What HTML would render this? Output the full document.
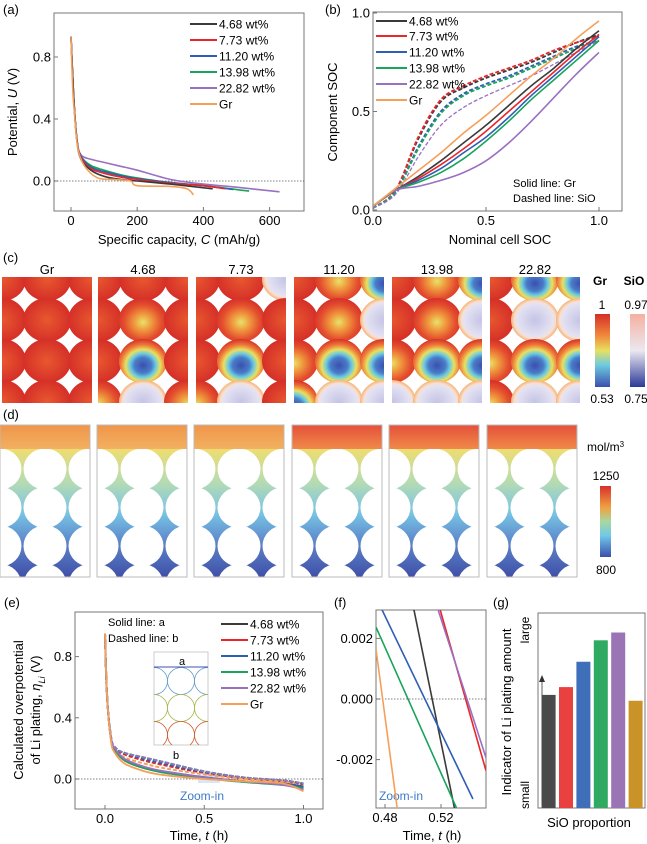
<!DOCTYPE html>
<html><head><meta charset="utf-8"><style>
html,body{margin:0;padding:0;background:#fff;}
svg{display:block;font-family:"Liberation Sans",sans-serif;}
</style></head><body>
<svg id="fig" width="647" height="844" viewBox="0 0 647 844" xmlns="http://www.w3.org/2000/svg">
<defs>
<clipPath id="clipA"><rect x="54" y="13" width="250" height="198"/></clipPath>
<clipPath id="clipB"><rect x="373" y="12" width="249" height="199"/></clipPath>
<clipPath id="clipE"><rect x="75" y="612" width="248" height="197"/></clipPath>
<clipPath id="clipF"><rect x="376" y="610" width="110" height="198"/></clipPath>
<clipPath id="clipInset"><rect x="154" y="652" width="54" height="93"/></clipPath>
<radialGradient id="gr" cx="0.5" cy="0.5" r="0.5"><stop offset="0" stop-color="#e8582f"/><stop offset="1" stop-color="#d52f28"/></radialGradient>
<radialGradient id="gry" cx="0.5" cy="0.55" r="0.55"><stop offset="0" stop-color="#e7e36a"/><stop offset="0.3" stop-color="#f0a040"/><stop offset="0.7" stop-color="#e4502e"/><stop offset="1" stop-color="#d52f28"/></radialGradient>
<radialGradient id="grb" cx="0.5" cy="0.6" r="0.6"><stop offset="0" stop-color="#3b4fae"/><stop offset="0.3" stop-color="#4a7cc8"/><stop offset="0.45" stop-color="#6ccbe0"/><stop offset="0.6" stop-color="#e8e060"/><stop offset="0.78" stop-color="#ee7a38"/><stop offset="1" stop-color="#d52f28"/></radialGradient>
<radialGradient id="sio" cx="0.5" cy="0.5" r="0.5"><stop offset="0" stop-color="#c4c4e6"/><stop offset="0.75" stop-color="#e4e2f2"/><stop offset="0.85" stop-color="#f8e0d0"/><stop offset="1" stop-color="#f5b27a"/></radialGradient>
<linearGradient id="cbGr" x1="0" y1="0" x2="0" y2="1"><stop offset="0" stop-color="#d52f28"/><stop offset="0.3" stop-color="#f08a3c"/><stop offset="0.5" stop-color="#e8e060"/><stop offset="0.7" stop-color="#6ccbe0"/><stop offset="1" stop-color="#3b4fae"/></linearGradient>
<linearGradient id="cbSiO" x1="0" y1="0" x2="0" y2="1"><stop offset="0" stop-color="#f5b0a0"/><stop offset="0.5" stop-color="#ece8f0"/><stop offset="1" stop-color="#2a3a98"/></linearGradient>
<linearGradient id="cbD" x1="0" y1="0" x2="0" y2="1"><stop offset="0" stop-color="#d8302a"/><stop offset="0.3" stop-color="#f0a040"/><stop offset="0.5" stop-color="#a8d8a0"/><stop offset="0.7" stop-color="#70c8e8"/><stop offset="1" stop-color="#3b4fae"/></linearGradient>
<linearGradient id="elec" x1="0" y1="0" x2="0" y2="1"><stop offset="0" stop-color="#eedd70"/><stop offset="0.25" stop-color="#b8dcb0"/><stop offset="0.5" stop-color="#78c4e4"/><stop offset="0.75" stop-color="#5a80c8"/><stop offset="1" stop-color="#4050a8"/></linearGradient>
<linearGradient id="bandL" x1="0" y1="0" x2="0" y2="1"><stop offset="0" stop-color="#f0954a"/><stop offset="1" stop-color="#f2b060"/></linearGradient>
<linearGradient id="bandR" x1="0" y1="0" x2="0" y2="1"><stop offset="0" stop-color="#e4503a"/><stop offset="1" stop-color="#f08a48"/></linearGradient>
</defs>

<text x="3" y="14" font-size="13">(a)</text>
<rect x="54" y="13" width="250" height="198" fill="none" stroke="#777" stroke-width="1"/>
<text transform="translate(17,112) rotate(-90)" text-anchor="middle" font-size="13">Potential, <tspan font-style="italic">U</tspan> (V)</text>
<text x="179" y="244" text-anchor="middle" font-size="13">Specific capacity, <tspan font-style="italic">C</tspan> (mAh/g)</text>
<g id="aAxes"></g><g id="aLines" clip-path="url(#clipA)"></g><g id="aLegend"></g>

<text x="325" y="14" font-size="13">(b)</text>
<rect x="373" y="12" width="249" height="199" fill="none" stroke="#777" stroke-width="1"/>
<text transform="translate(337,112) rotate(-90)" text-anchor="middle" font-size="13">Component SOC</text>
<text x="500" y="244" text-anchor="middle" font-size="13">Nominal cell SOC</text>
<text x="513" y="187" font-size="11">Solid line: Gr</text>
<text x="513" y="202" font-size="11">Dashed line: SiO</text>
<g id="bAxes"></g><g id="bLines" clip-path="url(#clipB)"></g><g id="bLegend"></g>

<text x="3" y="262" font-size="13">(c)</text>
<g id="cPanels"></g>
<text x="600" y="285" text-anchor="middle" font-size="12" font-weight="bold">Gr</text>
<text x="634" y="285" text-anchor="middle" font-size="12" font-weight="bold">SiO</text>
<text x="602" y="309" text-anchor="middle" font-size="12">1</text>
<text x="636" y="309" text-anchor="middle" font-size="12">0.97</text>
<rect x="595" y="314" width="15" height="73" fill="url(#cbGr)"/>
<rect x="630" y="314" width="15" height="73" fill="url(#cbSiO)"/>
<text x="602" y="403" text-anchor="middle" font-size="12">0.53</text>
<text x="636" y="403" text-anchor="middle" font-size="12">0.75</text>

<text x="3" y="419" font-size="13">(d)</text>
<g id="dPanels"></g>
<text x="587" y="451" font-size="12">mol/m<tspan baseline-shift="super" font-size="8">3</tspan></text>
<text x="606" y="480" text-anchor="middle" font-size="12">1250</text>
<rect x="600" y="486" width="11" height="71" fill="url(#cbD)"/>
<text x="606" y="574" text-anchor="middle" font-size="12">800</text>

<text x="4" y="607" font-size="13">(e)</text>
<rect x="75" y="612" width="248" height="197" fill="none" stroke="#777" stroke-width="1"/>
<text transform="translate(23,710) rotate(-90)" text-anchor="middle" font-size="13">Calculated overpotential</text>
<text transform="translate(40,710) rotate(-90)" text-anchor="middle" font-size="13">of Li plating, <tspan font-style="italic">η<tspan font-size="9" baseline-shift="sub">Li</tspan></tspan> (V)</text>
<text x="199" y="840" text-anchor="middle" font-size="13">Time, <tspan font-style="italic">t</tspan> (h)</text>
<text x="108" y="626" font-size="11">Solid line: a</text>
<text x="108" y="642" font-size="11">Dashed line: b</text>
<g>
<rect x="154" y="652" width="54" height="93" fill="#fff" stroke="#ccc" stroke-width="1"/>
<g fill="none" stroke-width="0.8" clip-path="url(#clipInset)">
<circle cx="181" cy="681" r="13.5" stroke="#6aa0c8"/><circle cx="154" cy="681" r="13.5" stroke="#6aa0c8"/><circle cx="208" cy="681" r="13.5" stroke="#6aa0c8"/>
<circle cx="181" cy="708" r="13.5" stroke="#a8b850"/><circle cx="154" cy="708" r="13.5" stroke="#a8b850"/><circle cx="208" cy="708" r="13.5" stroke="#a8b850"/>
<circle cx="181" cy="735" r="13.5" stroke="#d06030"/><circle cx="154" cy="735" r="13.5" stroke="#d06030"/><circle cx="208" cy="735" r="13.5" stroke="#d06030"/>
</g>
<line x1="154" y1="667" x2="208" y2="667" stroke="#4050b0" stroke-width="1"/>
<text x="182" y="665" text-anchor="middle" font-size="11">a</text>
<text x="176" y="759" text-anchor="middle" font-size="11">b</text>
</g>
<rect x="198" y="775" width="22" height="8" fill="#cfe0f4" opacity="0.8"/>
<text x="202" y="800" text-anchor="middle" font-size="12" fill="#3c7ac8">Zoom-in</text>
<g id="eAxes"></g><g id="eLines" clip-path="url(#clipE)"></g><g id="eLegend"></g>

<text x="334" y="607" font-size="13">(f)</text>
<rect x="376" y="610" width="110" height="198" fill="none" stroke="#777" stroke-width="1"/>
<text x="432" y="840" text-anchor="middle" font-size="13">Time, <tspan font-style="italic">t</tspan> (h)</text>
<text x="379" y="800" font-size="12" fill="#3c7ac8">Zoom-in</text>
<g id="fAxes"></g><g id="fLines" clip-path="url(#clipF)"></g>

<text x="493" y="607" font-size="13">(g)</text>
<rect x="538" y="613" width="107" height="195" fill="none" stroke="#777" stroke-width="1"/>
<text transform="translate(511,712) rotate(-90)" text-anchor="middle" font-size="13">Indicator of Li plating amount</text>
<text transform="translate(529,630) rotate(-90)" text-anchor="middle" font-size="12">large</text>
<text transform="translate(529,795) rotate(-90)" text-anchor="middle" font-size="12">small</text>
<line x1="542" y1="805" x2="542" y2="680" stroke="#333" stroke-width="0.8"/>
<path d="M539,682 L542,675 L545,682 Z" fill="#333"/>
<text x="589" y="827" text-anchor="middle" font-size="13">SiO proportion</text>
<g id="gBars"></g>
</svg>
<script>
const NS = "http://www.w3.org/2000/svg";
const seriesNames = ["4.68 wt%","7.73 wt%","11.20 wt%","13.98 wt%","22.82 wt%","Gr"];
const seriesColors = ["#3a3a3a","#e8262b","#2e5eb5","#1aa35a","#9a70c0","#f5a05a"];

const aTickX = [0,200,400,600];
const aTickY = [0.0,0.4,0.8];
const aCap = [
 [0,8,18,30,60,100,150,200,300,428],
 [0,8,18,30,60,100,150,200,300,400,465],
 [0,8,18,30,60,100,150,200,300,400,490],
 [0,8,18,30,60,100,150,200,300,400,538],
 [0,8,18,30,60,100,150,200,300,400,500,630],
 [0,5,10,20,40,80,130,180,200,300,350,370]
];
const aU = [
 [0.93,0.55,0.26,0.14,0.07,0.03,0.01,0.0,-0.02,-0.05],
 [0.93,0.55,0.26,0.15,0.08,0.05,0.025,0.01,-0.015,-0.03,-0.05],
 [0.93,0.55,0.26,0.16,0.09,0.06,0.035,0.015,-0.01,-0.03,-0.055],
 [0.93,0.55,0.26,0.16,0.1,0.07,0.04,0.02,-0.01,-0.03,-0.065],
 [0.93,0.55,0.27,0.17,0.14,0.12,0.095,0.07,0.01,-0.02,-0.04,-0.07],
 [0.93,0.6,0.45,0.22,0.1,0.02,0.01,0.0,-0.03,-0.035,-0.05,-0.09]
];
const bTickX = [0.0,0.5,1.0];
const bTickY = [0.0,0.5,1.0];
const bX = [0,0.1,0.2,0.3,0.4,0.5,0.6,0.7,0.8,0.9,1.0];
const bGr = [
 [0.02,0.1,0.17,0.25,0.34,0.43,0.53,0.63,0.72,0.82,0.91],
 [0.02,0.1,0.16,0.23,0.31,0.4,0.5,0.6,0.7,0.8,0.89],
 [0.02,0.1,0.15,0.21,0.29,0.37,0.47,0.58,0.68,0.78,0.88],
 [0.02,0.1,0.14,0.19,0.26,0.35,0.45,0.56,0.66,0.76,0.86],
 [0.02,0.1,0.12,0.15,0.19,0.25,0.34,0.45,0.57,0.69,0.8],
 [0.02,0.11,0.2,0.29,0.39,0.48,0.58,0.68,0.77,0.87,0.96]
];
const bSiO = [
 [0.01,0.1,0.36,0.55,0.62,0.67,0.71,0.75,0.8,0.85,0.89],
 [0.01,0.1,0.37,0.56,0.63,0.68,0.72,0.76,0.81,0.85,0.88],
 [0.01,0.09,0.32,0.5,0.59,0.64,0.68,0.73,0.78,0.83,0.86],
 [0.01,0.09,0.31,0.49,0.58,0.63,0.67,0.72,0.77,0.82,0.86],
 [0.01,0.08,0.27,0.43,0.52,0.58,0.63,0.68,0.74,0.8,0.86]
];
const eTickX = [0.0,0.5,1.0];
const eTickY = [0.0,0.4,0.8];
const eT = [0,0.01,0.03,0.05,0.1,0.2,0.3,0.5,0.7,0.9,1.0];
const eSolid = [
 [0.95,0.55,0.26,0.19,0.12,0.07,0.045,0.01,-0.015,-0.03,-0.05],
 [0.95,0.55,0.26,0.19,0.12,0.07,0.045,0.01,-0.015,-0.035,-0.06],
 [0.95,0.55,0.26,0.19,0.13,0.075,0.05,0.012,-0.015,-0.03,-0.05],
 [0.95,0.55,0.26,0.19,0.12,0.07,0.04,0.005,-0.02,-0.04,-0.06],
 [0.95,0.55,0.27,0.2,0.13,0.08,0.05,0.01,-0.015,-0.04,-0.07],
 [0.95,0.55,0.25,0.17,0.1,0.05,0.025,0.0,-0.015,-0.03,-0.08]
];
const eDashed = [
 [0.95,0.55,0.27,0.2,0.16,0.12,0.09,0.04,0.005,-0.015,-0.03],
 [0.95,0.55,0.27,0.2,0.16,0.12,0.09,0.04,0.005,-0.015,-0.035],
 [0.95,0.55,0.27,0.2,0.17,0.13,0.1,0.045,0.01,-0.01,-0.03],
 [0.95,0.55,0.27,0.2,0.17,0.14,0.11,0.05,0.01,-0.01,-0.03],
 [0.95,0.55,0.28,0.21,0.17,0.14,0.11,0.05,0.01,-0.01,-0.03],
 [0.95,0.55,0.26,0.19,0.14,0.1,0.07,0.03,0.0,-0.02,-0.05]
];
const fTickX = [0.48,0.52];
const fTickY = [0.002,0.000,-0.002];
const fT0 = [0.5006,0.5193,0.4777,0.4736,0.5178,0.4736];
const fV0 = [0.00296,0.00296,0.00296,0.00237,0.00296,0.00163];
const fT1 = [0.5296,0.5521,0.5428,0.5311,0.5521,0.4887];
const fV1 = [-0.0036,-0.00236,-0.0033,-0.0036,-0.00193,-0.0036];
const gValues = [0.58,0.62,0.75,0.86,0.90,0.55];
const gColors = ["#4a4a4a","#e8413f","#3f6fb8","#2eaa63","#9b74b5","#c99328"];

function smoothPath(pts){
  let d = "M"+pts[0][0].toFixed(1)+","+pts[0][1].toFixed(1);
  for(let i=0;i<pts.length-1;i++){
    const p0=pts[i-1]||pts[i], p1=pts[i], p2=pts[i+1], p3=pts[i+2]||p2;
    const c1=[p1[0]+(p2[0]-p0[0])/6, p1[1]+(p2[1]-p0[1])/6];
    const c2=[p2[0]-(p3[0]-p1[0])/6, p2[1]-(p3[1]-p1[1])/6];
    d+=" C"+c1[0].toFixed(1)+","+c1[1].toFixed(1)+" "+c2[0].toFixed(1)+","+c2[1].toFixed(1)+" "+p2[0].toFixed(1)+","+p2[1].toFixed(1);
  }
  return d;
}
function mk(tag, attrs, parent){
  const el=document.createElementNS(NS,tag);
  for(const k in attrs) el.setAttribute(k,attrs[k]);
  parent.appendChild(el); return el;
}
function axes(g, xt, yt, sx, sy, yBottom, xLeft, fmtX, fmtY, prefix){
  xt.forEach(v=>{
    const x=sx(v);
    const tk=mk("line",{x1:x,x2:x,y1:yBottom,y2:yBottom-4,stroke:"#777"},g);
    
    
    const t=mk("text",{x:x,y:yBottom+14,"text-anchor":"middle","font-size":"13"},g);
    t.textContent=fmtX(v);
    
    
  });
  yt.forEach(v=>{
    const y=sy(v);
    const tk=mk("line",{x1:xLeft,x2:xLeft+4,y1:y,y2:y,stroke:"#777"},g);
    
    
    const t=mk("text",{x:xLeft-3,y:y+4.5,"text-anchor":"end","font-size":"13"},g);
    t.textContent=fmtY(v);
    
    
  });
}
function legend(g, x1, x2, rows, prefix){
  seriesNames.forEach((n,i)=>{
    const l=mk("line",{x1:x1,x2:x2,y1:rows[i],y2:rows[i],stroke:seriesColors[i],"stroke-width":2},g);
    
    
    const t=mk("text",{x:x2+2,y:rows[i]+4.5,"font-size":"12"},g);
    t.textContent=n;
    
    
  });
}

const aSx=c=>71+c*0.331, aSy=u=>181-u*155;
axes(document.getElementById("aAxes"),aTickX,aTickY,aSx,aSy,211,54,v=>String(v),v=>v.toFixed(1),"panel-a");
const zeroA=mk("line",{x1:54,x2:304,y1:aSy(0),y2:aSy(0),stroke:"#555","stroke-dasharray":"1.5,1.5","stroke-width":0.8},document.getElementById("aAxes"));


[4,3,2,1,0,5].forEach(i=>{
  const pts=aCap[i].map((c,k)=>[aSx(c),aSy(aU[i][k])]);
  const p=mk("path",{d:smoothPath(pts),fill:"none",stroke:seriesColors[i],"stroke-width":1.6},document.getElementById("aLines"));
  
  
});
legend(document.getElementById("aLegend"),190,217,[24,40,56,72,88,104],"panel-a");

const bSx=v=>373+v*226, bSy=v=>210-v*197;
axes(document.getElementById("bAxes"),bTickX,bTickY,bSx,bSy,211,373,v=>v.toFixed(1),v=>v.toFixed(1),"panel-b");
bSiO.forEach((ys,i)=>{
  const pts=bX.map((x,k)=>[bSx(x),bSy(ys[k])]);
  const p=mk("path",{d:smoothPath(pts),fill:"none",stroke:seriesColors[i],"stroke-width":i==4?1.3:1.8,"stroke-dasharray":"4,2"},document.getElementById("bLines"));
  
  
});
bGr.forEach((ys,i)=>{
  const pts=bX.map((x,k)=>[bSx(x),bSy(ys[k])]);
  const p=mk("path",{d:smoothPath(pts),fill:"none",stroke:seriesColors[i],"stroke-width":1.6},document.getElementById("bLines"));
  
  
});
legend(document.getElementById("bLegend"),376,407,[21,36,52,68,84,100],"panel-b");

const eSx=t=>105+t*198.5, eSy=v=>779-v*153;
axes(document.getElementById("eAxes"),eTickX,eTickY,eSx,eSy,809,75,v=>v.toFixed(1),v=>v.toFixed(1),"panel-e");
const zeroE=mk("line",{x1:75,x2:323,y1:eSy(0),y2:eSy(0),stroke:"#555","stroke-dasharray":"1.5,1.5","stroke-width":0.8},document.getElementById("eAxes"));


eDashed.forEach((ys,i)=>{
  const pts=eT.map((t,k)=>[eSx(t),eSy(ys[k])]);
  const p=mk("path",{d:smoothPath(pts),fill:"none",stroke:seriesColors[i],"stroke-width":2,"stroke-dasharray":"4,2"},document.getElementById("eLines"));
  
  
});
eSolid.forEach((ys,i)=>{
  const pts=eT.map((t,k)=>[eSx(t),eSy(ys[k])]);
  const p=mk("path",{d:smoothPath(pts),fill:"none",stroke:seriesColors[i],"stroke-width":1.8},document.getElementById("eLines"));
  
  
});
legend(document.getElementById("eLegend"),221,248,[624,640,656,672,688,704],"panel-e");

const fSx=t=>385+(t-0.48)*1400, fSy=v=>699-v*30300;
axes(document.getElementById("fAxes"),fTickX,fTickY,fSx,fSy,808,376,v=>v.toFixed(2),v=>v.toFixed(3),"panel-f");
const zeroF=mk("line",{x1:376,x2:486,y1:fSy(0),y2:fSy(0),stroke:"#555","stroke-dasharray":"1.5,1.5","stroke-width":0.8},document.getElementById("fAxes"));


fT0.forEach((t0,i)=>{
  const l=mk("line",{x1:fSx(t0),y1:fSy(fV0[i]),x2:fSx(fT1[i]),y2:fSy(fV1[i]),stroke:seriesColors[i],"stroke-width":1.6},document.getElementById("fLines"));
  
  
});

const gSy=v=>808-v*195;
gValues.forEach((v,i)=>{
  const x=541.6+i*17.4;
  const r=mk("rect",{x:x,y:gSy(v),width:14,height:808-gSy(v),fill:gColors[i]},document.getElementById("gBars"));
  
  
});

const cX=[2,98,196,294,392,490];
const cTitles=["Gr","4.68","7.73","11.20","13.98","22.82"];
const cTypes=[
 [[0,0,0,0],[0,0,0,0],[0,0,0,0]],
 [[0,0,0,3],[0,3,1,2],[0,0,0,3]],
 [[0,0,0,3],[0,3,1,2],[2,0,0,0]],
 [[0,0,3,1],[3,3,1,2],[1,2,1,2]],
 [[0,0,3,2],[3,3,1,2],[1,2,1,2]],
 [[0,0,3,3],[1,2,1,2],[1,2,1,2]]
];
const fills=["url(#gr)","url(#grb)","url(#sio)","url(#gry)"];
const cp=document.getElementById("cPanels");
cX.forEach((x0,p)=>{
  const t=mk("text",{x:x0+45,y:274,"text-anchor":"middle","font-size":"13"},cp);
  t.textContent=cTitles[p];
  
  
  const cl=mk("clipPath",{id:"cc"+p},document.querySelector("defs"));
  mk("rect",{x:x0,y:277,width:90,height:126},cl);
  const g=mk("g",{"clip-path":"url(#cc"+p+")"},cp);
  
  
  [0,1,2].forEach(c=>{
    [0,1,2,3].forEach(r=>{
      const ty=cTypes[p][c][r];
      mk("ellipse",{cx:x0+c*45,cy:279+r*41,rx:24,ry:22,fill:fills[ty]},g);
    });
  });
});

const dX=[0,97,194,292,389,487];
const dp=document.getElementById("dPanels");
dX.forEach((x0,p)=>{
  const g=mk("g",{},dp);
  
  
  const cl=mk("clipPath",{id:"dc"+p},document.querySelector("defs"));
  mk("rect",{x:x0,y:449,width:90,height:128},cl);
  mk("rect",{x:x0,y:425,width:90,height:24,fill:p<3?"url(#bandL)":"url(#bandR)"},g);
  const gi=mk("g",{"clip-path":"url(#dc"+p+")"},g);
  mk("rect",{x:x0,y:449,width:90,height:128,fill:"url(#elec)"},gi);
  [0,1,2].forEach(c=>{
    [0,1,2,3].forEach(r=>{
      mk("ellipse",{cx:x0+c*45,cy:469+r*38.5,rx:21.5,ry:20.5,fill:"#fff"},gi);
    });
  });
  mk("rect",{x:x0,y:425,width:90,height:152,fill:"none",stroke:"#bbb","stroke-width":1},g);
});
</script>
</body></html>
